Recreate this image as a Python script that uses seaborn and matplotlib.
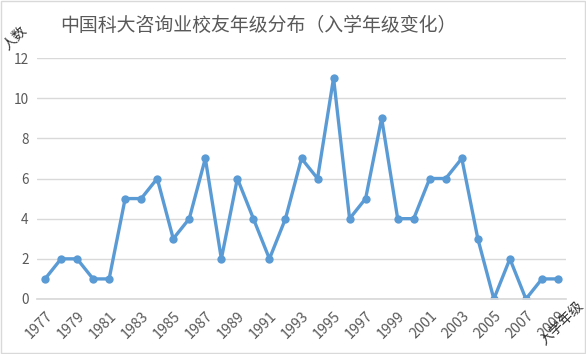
import pandas as pd
import matplotlib.pyplot as plt
import seaborn as sns

# Data
years = list(range(1977, 2010))
counts = [1, 2, 2, 1, 1, 5, 5, 6, 3, 4, 7, 2, 6, 4, 2, 4, 7, 6, 11, 4, 5, 9,
          4, 4, 6, 6, 7, 3, 0, 2, 0, 1, 1]
tick_years = list(range(1977, 2010, 2))

df = pd.DataFrame({'year': years, 'count': counts})

sns.set_theme(style="white")
plt.rcParams['font.family'] = ['Noto Sans CJK SC', 'DejaVu Sans']

fig = plt.figure(figsize=(5.86, 3.54), dpi=100)
ax = fig.add_axes([37 / 586, 1 - 299 / 354, 529 / 586, 241 / 354])

sns.lineplot(data=df, x='year', y='count', ax=ax, color='#5b9bd5',
             linewidth=2.4, marker='o', markersize=6, markeredgewidth=0)

ax.set_xlim(1976.5, 2009.5)
ax.set_ylim(0, 12)
ax.set_yticks(range(0, 13, 2))
ax.set_xticks(tick_years)
ax.set_xticklabels([str(y) for y in tick_years], rotation=45, ha='right',
                   rotation_mode='anchor')
ax.tick_params(axis='y', labelsize=9.8, colors='#595959', length=0, pad=6)
ax.tick_params(axis='x', labelsize=10.3, colors='#595959', length=0, pad=7)
ax.grid(axis='y', color='#d9d9d9', linewidth=1)
for s in ['top', 'right', 'left']:
    ax.spines[s].set_visible(False)
ax.spines['bottom'].set_color('#d9d9d9')
ax.set_xlabel('')
ax.set_ylabel('')

# Axis titles placed like the original
fig.text(15 / 586, 1 - 38 / 354, '人数', rotation=45, fontsize=10, color='#333333',
         ha='center', va='center')
fig.text(562 / 586, 1 - 324 / 354, '入学年级', rotation=45, fontsize=10, color='#333333',
         ha='center', va='center')

fig.text(60 / 586, 1 - 25 / 354, '中国科大咨询业校友年级分布（入学年级变化）',
         fontsize=13.6, color='#595959', ha='left', va='center')

# Light border around the chart
fig.patches.append(plt.Rectangle((0.002, 0.003), 0.996, 0.994, transform=fig.transFigure,
                                 fill=False, edgecolor='#d9d9d9', linewidth=1))

plt.savefig('out.png', dpi=100)
plt.close()
